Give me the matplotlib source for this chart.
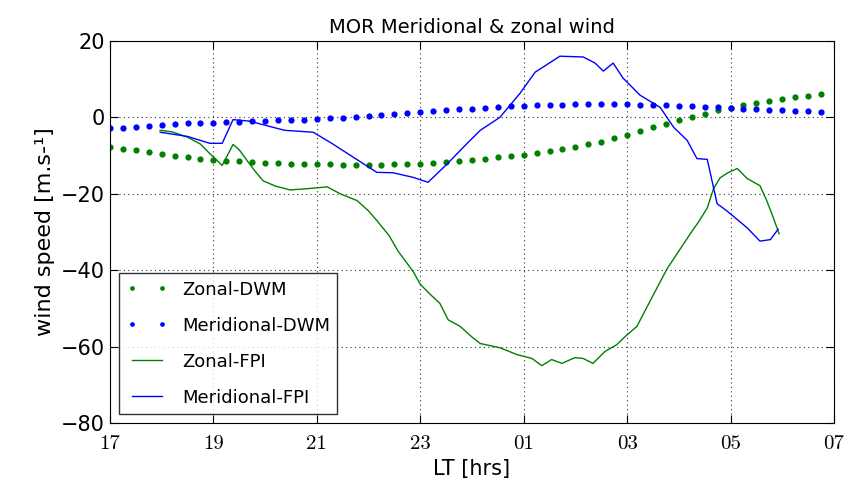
import matplotlib
matplotlib.use('Agg')
import matplotlib.pyplot as plt
import numpy as np

# DWM model, every 15 min from 17 LT to 06:45 LT (hours past midnight > 24)
t_dwm = np.arange(17.0, 30.76, 0.25)
zonal_dwm = [-7.8, -8.2, -8.6, -9.1, -9.6, -10.0, -10.4, -10.8, -11.1, -11.3,
             -11.5, -11.7, -11.9, -12.0, -12.1, -12.2, -12.3, -12.3, -12.4, -12.4,
             -12.4, -12.4, -12.3, -12.3, -12.2, -12.0, -11.8, -11.5, -11.2, -10.9,
             -10.5, -10.2, -9.9, -9.4, -8.9, -8.3, -7.7, -7.1, -6.4, -5.5,
             -4.5, -3.5, -2.6, -1.7, -0.7, 0.2, 1.0, 1.8, 2.5, 3.1,
             3.7, 4.3, 4.8, 5.3, 5.7, 6.1]
merid_dwm = [-2.9, -2.7, -2.4, -2.2, -2.0, -1.8, -1.6, -1.5, -1.4, -1.2,
             -1.1, -1.0, -0.9, -0.8, -0.7, -0.6, -0.5, -0.3, -0.1, 0.1,
             0.3, 0.6, 0.9, 1.1, 1.4, 1.6, 1.9, 2.1, 2.3, 2.5,
             2.7, 2.9, 3.0, 3.1, 3.2, 3.3, 3.4, 3.4, 3.4, 3.4,
             3.4, 3.3, 3.2, 3.1, 3.0, 2.9, 2.8, 2.6, 2.5, 2.3,
             2.2, 2.0, 1.9, 1.7, 1.6, 1.4]

# FPI measurements
t_zon_fpi = [17.97, 18.2, 18.5, 18.75, 18.93, 19.05, 19.17, 19.38, 19.5, 19.65,
             19.8, 19.96, 20.2, 20.48, 20.8, 21.2, 21.45, 21.78, 22.0, 22.16,
             22.4, 22.57, 22.86, 23.0, 23.19, 23.38, 23.54, 23.77, 24.0, 24.16,
             24.54, 24.87, 25.16, 25.35, 25.54, 25.74, 25.99, 26.15, 26.34, 26.57,
             26.8, 26.96, 27.19, 27.44, 27.77, 28.0, 28.22, 28.4, 28.55, 28.67,
             28.8, 28.95, 29.13, 29.32, 29.57, 29.7, 29.82, 29.94]
zon_fpi = [-3.4, -3.8, -5.2, -7.0, -9.5, -11.0, -12.6, -7.1, -8.5, -11.3,
           -14.0, -16.6, -18.0, -19.0, -18.7, -18.2, -20.0, -21.8, -24.5, -27.0,
           -31.0, -35.0, -40.3, -43.7, -46.3, -48.7, -53.0, -54.7, -57.5, -59.2,
           -60.3, -62.1, -63.1, -65.0, -63.4, -64.4, -62.9, -63.1, -64.4, -61.3,
           -59.5, -57.4, -54.7, -48.2, -39.7, -35.0, -30.5, -27.0, -23.7, -18.7,
           -15.8, -14.5, -13.4, -16.0, -17.9, -21.8, -26.0, -30.5]

t_mer_fpi = [17.97, 18.5, 18.93, 19.17, 19.38, 19.7, 20.15, 20.38, 20.93, 21.3,
             21.7, 22.16, 22.47, 22.86, 23.15, 23.52, 23.9, 24.16, 24.54, 24.93,
             25.22, 25.7, 26.15, 26.38, 26.54, 26.73, 26.92, 27.25, 27.64, 27.9,
             28.16, 28.35, 28.55, 28.74, 28.93, 29.32, 29.57, 29.77, 29.92]
mer_fpi = [-3.9, -5.0, -6.8, -6.8, -0.6, -1.0, -2.6, -3.4, -3.9, -6.9,
           -10.4, -14.4, -14.5, -15.7, -17.0, -12.2, -6.9, -3.4, 0.0, 6.3,
           11.8, 16.0, 15.8, 14.2, 12.1, 14.2, 10.3, 5.8, 2.6, -2.6,
           -6.0, -10.8, -11.0, -22.6, -24.5, -28.9, -32.4, -32.0, -29.3]

xticks = [17, 19, 21, 23, 25, 27, 29, 31]
xticklabels = ['17', '19', '21', '23', '01', '03', '05', '07']

plt.rcParams['font.family'] = ['DejaVu Sans']

fig = plt.figure(figsize=(8.66, 4.93), dpi=100)
ax = fig.add_axes([0.127, 0.142, 0.836, 0.775])

ax.plot(t_dwm, zonal_dwm, 'o', color='g', markersize=4.5, markeredgewidth=0, label='Zonal-DWM')
ax.plot(t_dwm, merid_dwm, 'o', color='b', markersize=4.5, markeredgewidth=0, label='Meridional-DWM')
ax.plot(t_zon_fpi, zon_fpi, '-', color='g', lw=1, label='Zonal-FPI')
ax.plot(t_mer_fpi, mer_fpi, '-', color='b', lw=1, label='Meridional-FPI')

ax.set_xlim(17, 31)
ax.set_ylim(-80, 20)
ax.set_xticks(xticks)
ax.set_xticklabels(xticklabels, fontfamily='cmr10', fontsize=15)
ax.set_yticks(np.arange(-80, 21, 20))
for lab in ax.get_yticklabels():
    lab.set_fontsize(15)
ax.tick_params(direction='in', top=True, right=True, length=6)
ax.tick_params(axis='x', pad=9)
ax.grid(True, color='#333333', linestyle=(0, (1, 3)), linewidth=0.8)

ax.set_title('MOR Meridional & zonal wind', fontsize=14)
ax.set_xlabel('LT [hrs]', fontsize=15)
ax.set_ylabel('wind speed [m.s-\u00b9]', fontsize=16)

leg = ax.legend(loc='lower left', numpoints=2, fontsize=13, fancybox=False,
                borderaxespad=0.5, handlelength=2.3, labelspacing=1.0,
                markerscale=0.75)
leg.get_frame().set_edgecolor('k')
leg.get_frame().set_linewidth(1)

fig.savefig('out.png', dpi=100)
